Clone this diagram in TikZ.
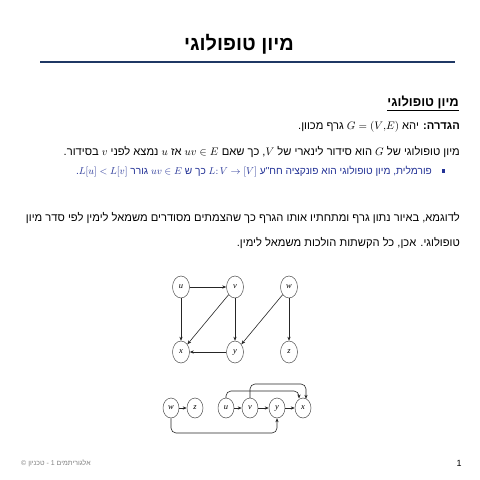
\documentclass[tikz,border=0pt]{standalone}
\usepackage{fontspec}
\setmainfont{Liberation Sans}
\newfontfamily\heb[Script=Hebrew]{Liberation Sans}
\newfontfamily\nodefont{Liberation Serif}
\TeXXeTstate=1
\usetikzlibrary{arrows.meta,shapes.geometric}
\newcommand\RL[1]{\beginR #1\endR}
\newcommand\ML[1]{\beginL$#1$\endL}
\definecolor{navy}{RGB}{31,56,100}
\definecolor{txtblue}{RGB}{35,50,150}
\definecolor{footgray}{RGB}{130,130,130}
\tikzset{
  line/.style={anchor=east, inner sep=0pt, font=\heb\fontsize{11.2}{13}\selectfont},
  vtx/.style={ellipse, draw=black!70, line width=0.5pt, minimum width=17bp, minimum height=22bp, inner sep=0pt, font=\nodefont\itshape\fontsize{8.5}{9}\selectfont},
  vtxs/.style={vtx, minimum width=16bp, minimum height=20bp},
  edge/.style={-{Stealth[length=4bp,width=3.2bp]}, line width=0.6pt, black!85},
}
\begin{document}
\begin{tikzpicture}[x=1bp,y=-1bp]
\useasboundingbox (0,0) rectangle (480,480);
\fill[white] (0,0) rectangle (480,480);
% title
\node[inner sep=0pt, font=\heb\bfseries\fontsize{20}{22}\selectfont] (title) at (239,44) {\RL{מיון טופולוגי}};
\draw[navy, line width=1.5pt] (40,62) -- (455,62);
% subheading
\node[line, font=\heb\bfseries\fontsize{13}{15}\selectfont] (sub) at (459,103) {\underline{\RL{מיון טופולוגי}}};
\node[line] (def) at (460,127) {\RL{\textbf{הגדרה:} יהא \ML{G=(V{,}E)} גרף מכוון.}};
\node[line] (l3) at (460,152) {\RL{מיון טופולוגי של \ML{G} הוא סידור לינארי של \ML{V}, כך שאם \ML{uv\in E} אז \ML{u} נמצא לפני \ML{v} בסידור.}};
\fill[txtblue] (441.5,169.5) rectangle (445,173);
\node[line, text=txtblue, font=\heb\fontsize{10.2}{12}\selectfont] (l4) at (432,172) {\RL{פורמלית, מיון טופולוגי הוא פונקציה חח"ע \ML{L\colon V\to[V]} כך ש \ML{uv\in E} גורר \ML{L[u]<L[v]}.}};
\node[line] (p1) at (460,218) {\RL{לדוגמא, באיור נתון גרף ומתחתיו אותו הגרף כך שהצמתים מסודרים משמאל לימין לפי סדר מיון}};
\node[line] (p2) at (460,243) {\RL{טופולוגי. אכן, כל הקשתות הולכות משמאל לימין.}};
% graph 1
\node[vtx] (u) at (181,287) {u};
\node[vtx] (v) at (235,287) {v};
\node[vtx] (w) at (289,287) {w};
\node[vtx] (x) at (181,352) {x};
\node[vtx] (y) at (235,352) {y};
\node[vtx] (z) at (289,352) {z};
\draw[edge] (u) -- (v);
\draw[edge] (u) -- (x);
\draw[edge] (v) -- (x);
\draw[edge] (v) -- (y);
\draw[edge] (w) -- (y);
\draw[edge] (w) -- (z);
\draw[edge] (y) -- (x);
% graph 2
\node[vtxs] (w2) at (171,408) {w};
\node[vtxs] (z2) at (195,408) {z};
\node[vtxs] (u2) at (226,408) {u};
\node[vtxs] (v2) at (250,408) {v};
\node[vtxs] (y2) at (277,408) {y};
\node[vtxs] (x2) at (303,408) {x};
\draw[edge] (w2) -- (z2);
\draw[edge] (u2) -- (v2);
\draw[edge] (v2) -- (y2);
\draw[edge] (y2) -- (x2);
\draw[edge, rounded corners=5bp] (u2.north) |- (299,391) -- (299,398.5);
\draw[edge, rounded corners=5bp] (v2.north) |- (306,384) -- (306,398.8);
\draw[edge, rounded corners=5bp] (w2.south) |- (277,433) -- (y2.south);
% footer
\node[inner sep=0pt, anchor=west, text=footgray, font=\heb\fontsize{7}{8}\selectfont] (foot) at (21,463) {\RL{אלגוריתמים 1 - טכניון ©}};
\node[inner sep=0pt, font=\fontsize{9}{10}\selectfont] (pg) at (459,463) {1};
\end{tikzpicture}
\end{document}
